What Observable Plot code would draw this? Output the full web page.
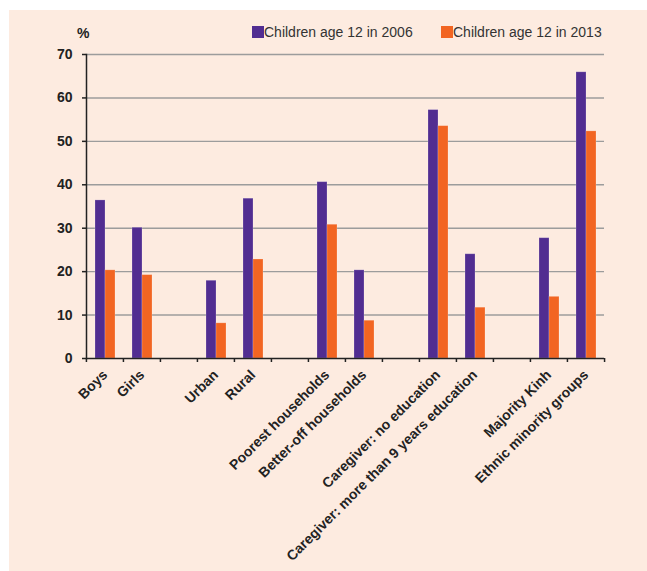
<!DOCTYPE html>
<html>
<head>
<meta charset="utf-8">
<script src="https://cdn.jsdelivr.net/npm/d3@7"></script>
<script src="https://cdn.jsdelivr.net/npm/@observablehq/plot@0.6"></script>
<style>
  html, body { margin: 0; padding: 0; background: #ffffff; }
  #panel { position: absolute; left: 9px; top: 10px; width: 638px; height: 561px; background: #FDEBE0; overflow: hidden; }
  #header { position: relative; height: 35px; font-family: "Liberation Sans", Arial, sans-serif; }
  .pct { position: absolute; left: 68px; top: 14.6px; font-size: 14px; line-height: 16px; font-weight: bold; color: #222; }
  .item { position: absolute; top: 0; height: 35px; }
  .sw { position: absolute; top: 16px; width: 11.5px; height: 11.5px; left: 0; }
  .lab { position: absolute; left: 12px; top: 13.9px; font-size: 14px; line-height: 16px; color: #333; white-space: nowrap; }
  #chart svg { display: block; }
</style>
</head>
<body>
<div id="panel">
  <div id="header"></div>
  <div id="chart"></div>
</div>
<script>
// ---- data ----
const categories = ["Boys", "Girls", "Urban", "Rural", "Poorest households", "Better-off households",
  "Caregiver: no education", "Caregiver: more than 9 years education", "Majority Kinh", "Ethnic minority groups"];
const values2006 = [36.4, 30.1, 17.9, 36.8, 40.6, 20.3, 57.2, 24.0, 27.7, 65.9];
const values2013 = [20.3, 19.2, 8.1, 22.8, 30.8, 8.7, 53.5, 11.7, 14.2, 52.3];
const seriesNames = ["Children age 12 in 2006", "Children age 12 in 2013"];
const seriesKeys = ["2006", "2013"];
const seriesColors = ["#512D91", "#F26522"];
const yTicks = [0, 10, 20, 30, 40, 50, 60, 70];
const yUnit = "%";

// categories are shown in pairs, with an empty slot between pairs
const slots = [];
categories.forEach((c, i) => {
  slots.push(c);
  if (i % 2 === 1 && i < categories.length - 1) slots.push("gap" + i);
});
const isGap = s => s.startsWith("gap") && !categories.includes(s);

const data = [];
categories.forEach((c, i) => {
  data.push({cat: c, series: seriesKeys[0], value: values2006[i]});
  data.push({cat: c, series: seriesKeys[1], value: values2013[i]});
});

// ---- header (unit + legend) ----
const header = document.getElementById("header");
const pct = document.createElement("div");
pct.className = "pct"; pct.textContent = yUnit; header.appendChild(pct);
const legendLefts = [243, 432];
seriesNames.forEach((name, i) => {
  const it = document.createElement("div");
  it.className = "item"; it.style.left = legendLefts[i] + "px";
  const sw = document.createElement("div"); sw.className = "sw"; sw.style.background = seriesColors[i];
  const lab = document.createElement("div"); lab.className = "lab"; lab.textContent = name;
  it.appendChild(sw); it.appendChild(lab); header.appendChild(it);
});

// ---- chart ----
const width = 638, height = 526, marginLeft = 76, marginRight = 42, marginTop = 9, marginBottom = 213;
const step = (width - marginLeft - marginRight) / slots.length;

const chart = Plot.plot({
  width, height, marginLeft, marginRight, marginTop, marginBottom,
  style: {background: "transparent", fontFamily: "'Liberation Sans', Arial, sans-serif", fontSize: "14px", color: "#222"},
  fx: {domain: slots, padding: 0, label: null, axis: null},
  x: {domain: seriesKeys, paddingInner: 0, paddingOuter: 0.75, axis: null},
  y: {domain: [0, 70], axis: null},
  color: {domain: seriesKeys, range: seriesColors},
  marks: [
    Plot.ruleY(yTicks.filter(d => d > 0), {stroke: "#9c9c9c", strokeWidth: 1.4}),
    Plot.barY(data, {fx: "cat", x: "series", y: "value", fill: "series", stroke: "#ffffff", strokeOpacity: 0.25, strokeWidth: 0.8}),
    Plot.ruleY(slots, {fx: d => d, y: () => 0, stroke: "#222", strokeWidth: 1.5}),
    Plot.frame({anchor: "left", facetAnchor: "left", stroke: "#222", strokeWidth: 1.5}),
    Plot.axisY({ticks: yTicks, tickSize: 4, tickPadding: 10, stroke: "#222", strokeWidth: 1.5, fill: "#222", fontWeight: "bold", fontSize: 14, label: null}),
    Plot.axisFx({anchor: "bottom", tickSize: 4, dx: -step / 2, fill: "none", stroke: "#222", strokeWidth: 1.5, label: null}),
    Plot.axisFx({anchor: "bottom", ticks: [slots[slots.length - 1]], tickSize: 4, dx: step / 2, fill: "none", stroke: "#222", strokeWidth: 1.5, label: null}),
    Plot.axisFx({anchor: "bottom", tickSize: 0, tickPadding: 14, tickRotate: -45, fill: "#222", fontWeight: "bold", fontSize: 14, label: null,
      tickFormat: d => isGap(d) ? "" : d})
  ]
});
document.getElementById("chart").appendChild(chart);
</script>
</body>
</html>
